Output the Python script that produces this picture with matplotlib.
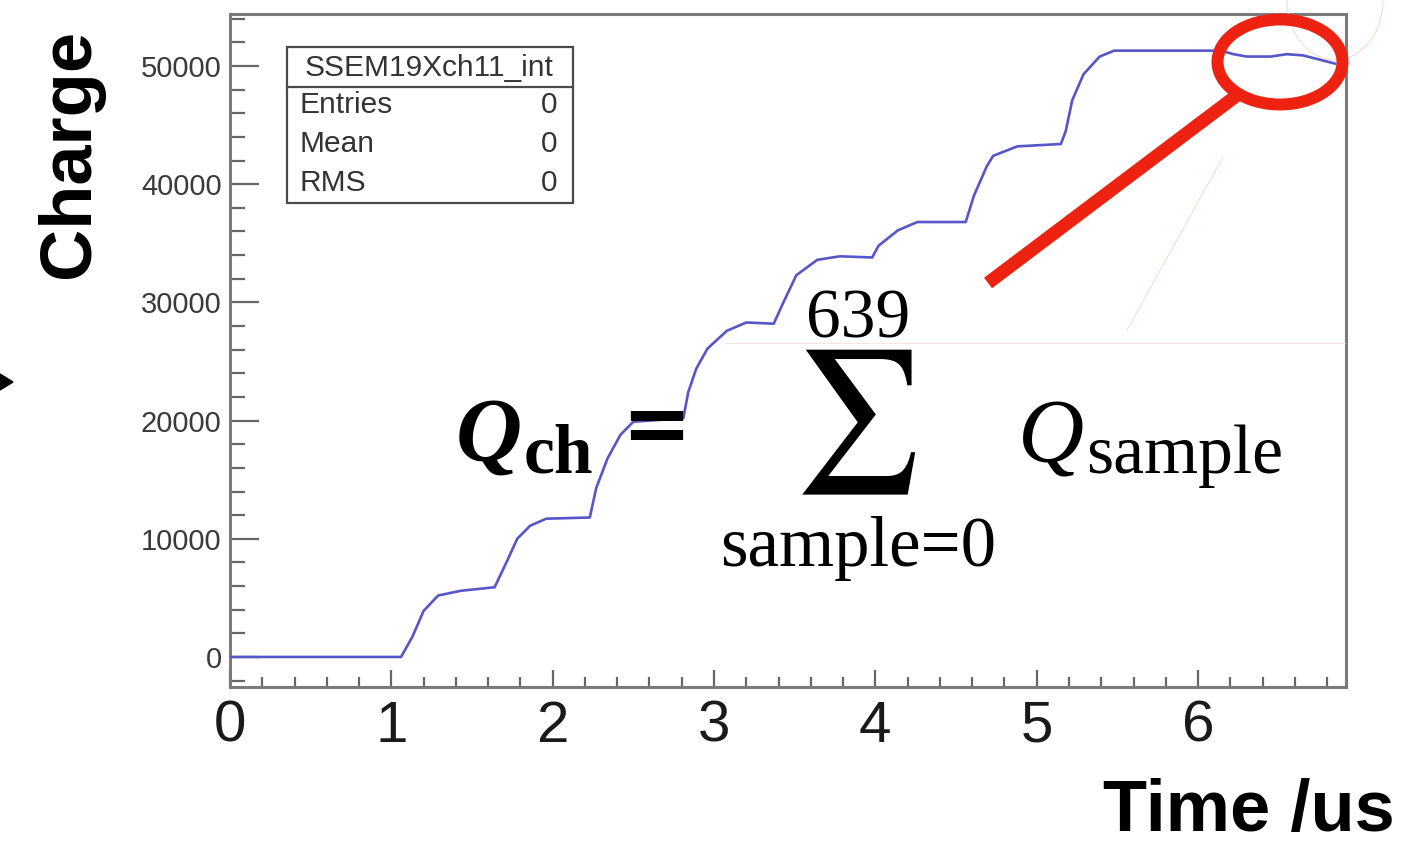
import matplotlib
matplotlib.use("Agg")
import matplotlib.pyplot as plt
from matplotlib.patches import Ellipse, Rectangle, Polygon
from matplotlib.lines import Line2D
from matplotlib.ticker import MultipleLocator

# integrated charge of SSEM19 X ch11
time_us = [0.00, 1.06, 1.13, 1.20, 1.29, 1.43, 1.64, 1.72, 1.78, 1.86, 1.96,
           2.23, 2.27, 2.34, 2.42, 2.50, 2.81, 2.84, 2.89, 2.96, 3.08, 3.20,
           3.37, 3.43, 3.51, 3.64, 3.78, 3.98, 4.02, 4.14, 4.26, 4.56, 4.61,
           4.69, 4.73, 4.88, 5.15, 5.18, 5.22, 5.29, 5.39, 5.48, 6.14, 6.22,
           6.30, 6.45, 6.55, 6.65, 6.85]
charge = [0, 0, 1700, 3900, 5200, 5600, 5900, 8200, 10000, 11100, 11700,
          11800, 14300, 16800, 18800, 19900, 20200, 22400, 24400, 26100, 27600, 28300,
          28200, 30000, 32300, 33600, 33900, 33800, 34800, 36100, 36800, 36800, 39000,
          41500, 42400, 43200, 43400, 44500, 47100, 49300, 50800, 51300, 51300, 51000,
          50800, 50800, 51000, 50900, 50200]

x_ticks = [0, 1, 2, 3, 4, 5, 6]
y_ticks = [0, 10000, 20000, 30000, 40000, 50000]

hist_name = "SSEM19Xch11_int"
stat_names = ["Entries", "Mean", "RMS"]
stat_values = ["0", "0", "0"]

W, H = 1410, 847
def fx(px):
    return px / W
def fy(py):
    return 1 - py / H

fig = plt.figure(figsize=(W / 100, H / 100), dpi=100)
ax = fig.add_axes([fx(230), fy(687), (1346 - 230) / W, (687 - 14) / H])

ax.plot(time_us, charge, color="#5656c8", lw=1.9, zorder=3)

ax.set_xlim(0, 6.917)
ax.set_ylim(-2540, 54400)
ax.set_xticks(x_ticks)
ax.set_xticklabels([str(v) for v in x_ticks], fontsize=42, family="Liberation Sans", color="#1a1a1a")
ax.set_yticks(y_ticks)
ax.set_yticklabels([str(v) for v in y_ticks], fontsize=21, family="Liberation Sans", color="#3a3a3a")
ax.xaxis.set_minor_locator(MultipleLocator(0.2))
ax.yaxis.set_minor_locator(MultipleLocator(2000))

ax.tick_params(axis="x", which="major", direction="in", length=12.5, width=1.6, color="#666666", pad=9)
ax.tick_params(axis="x", which="minor", direction="in", length=7, width=1.6, color="#666666")
ax.tick_params(axis="y", which="major", direction="in", length=21, width=1.6, color="#666666", pad=6)
ax.tick_params(axis="y", which="minor", direction="in", length=11, width=1.6, color="#666666")
for s in ax.spines.values():
    s.set_color("#7a7a7a")
    s.set_linewidth(2.2)

# stats box
fig.add_artist(Rectangle((fx(287), fy(203)), (573 - 287) / W, (203 - 47) / H,
                         transform=fig.transFigure, fill=False, ec="#4a4a4a", lw=1.6, zorder=5))
fig.add_artist(Line2D([fx(287), fx(573)], [fy(87), fy(87)], transform=fig.transFigure,
                      color="#4a4a4a", lw=1.6, zorder=5))
fig.text(fx(429), fy(68), hist_name, ha="center", va="center", fontsize=21.5,
         family="Liberation Sans", color="#333333")
for i, (n, v) in enumerate(zip(stat_names, stat_values)):
    yy = fy(105 + 39 * i)
    fig.text(fx(300), yy, n, ha="left", va="center", fontsize=21.5, family="Liberation Sans", color="#333333")
    fig.text(fx(557), yy, v, ha="right", va="center", fontsize=21.5, family="Liberation Sans", color="#333333")

# axis titles
fig.text(fx(70), fy(153), "Charge", rotation=90, ha="center", va="center",
         fontsize=52, fontweight="bold", family="Liberation Sans")
fig.text(fx(1395), fy(831), "Time /us", ha="right", va="baseline",
         fontsize=52, fontweight="bold", family="Liberation Sans")

# formula
serif = ["Liberation Serif", "DejaVu Serif"]
fig.text(fx(456), fy(461), "Q", ha="left", va="baseline", fontsize=66,
         fontweight="bold", style="italic", family=serif)
fig.text(fx(524), fy(472), "ch", ha="left", va="baseline", fontsize=50,
         fontweight="bold", family=serif)
fig.text(fx(656), fy(452), "=", ha="center", va="baseline", fontsize=60,
         fontweight="bold", family="DejaVu Sans")
fig.text(fx(855), fy(422), r"$\sum$", ha="center", va="center", fontsize=102,
         math_fontfamily="stix")
fig.text(fx(858), fy(337), "639", ha="center", va="baseline", fontsize=50, family=serif)
fig.text(fx(858), fy(566), "sample=0", ha="center", va="baseline", fontsize=51, family=serif)
fig.text(fx(1018), fy(462), "Q", ha="left", va="baseline", fontsize=66,
         style="italic", family=serif)
fig.text(fx(1086), fy(473), "sample", ha="left", va="baseline", fontsize=50, family=serif)

# red callout
red = "#ee2210"
fig.add_artist(Line2D([fx(988), fx(1240)], [fy(283), fy(93)], transform=fig.transFigure,
                      color=red, lw=9.5, solid_capstyle="butt", zorder=6))
fig.add_artist(Ellipse((fx(1280), fy(62)), 125 / W, 85 / H, transform=fig.transFigure,
                       fill=False, ec=red, lw=8.6, zorder=7))
# faint leftovers of the overlay
fig.add_artist(Ellipse((fx(1335), fy(0)), 96 / W, 120 / H, transform=fig.transFigure,
                       fill=False, ec="#f8d4d4", lw=0.7, zorder=4))
fig.add_artist(Line2D([fx(725), fx(1345)], [fy(343), fy(343)], transform=fig.transFigure,
                      color="#fae0e0", lw=0.6, zorder=2))
fig.add_artist(Line2D([fx(1127), fx(1223)], [fy(330), fy(157)], transform=fig.transFigure,
                      color="#f8d0d0", lw=0.6, zorder=2))

# small arrow head at left edge
fig.add_artist(Polygon([(fx(0), fy(374)), (fx(0), fy(390)), (fx(13), fy(382))],
                       closed=True, transform=fig.transFigure, color="black", zorder=6))

fig.savefig("out.png", dpi=100)
